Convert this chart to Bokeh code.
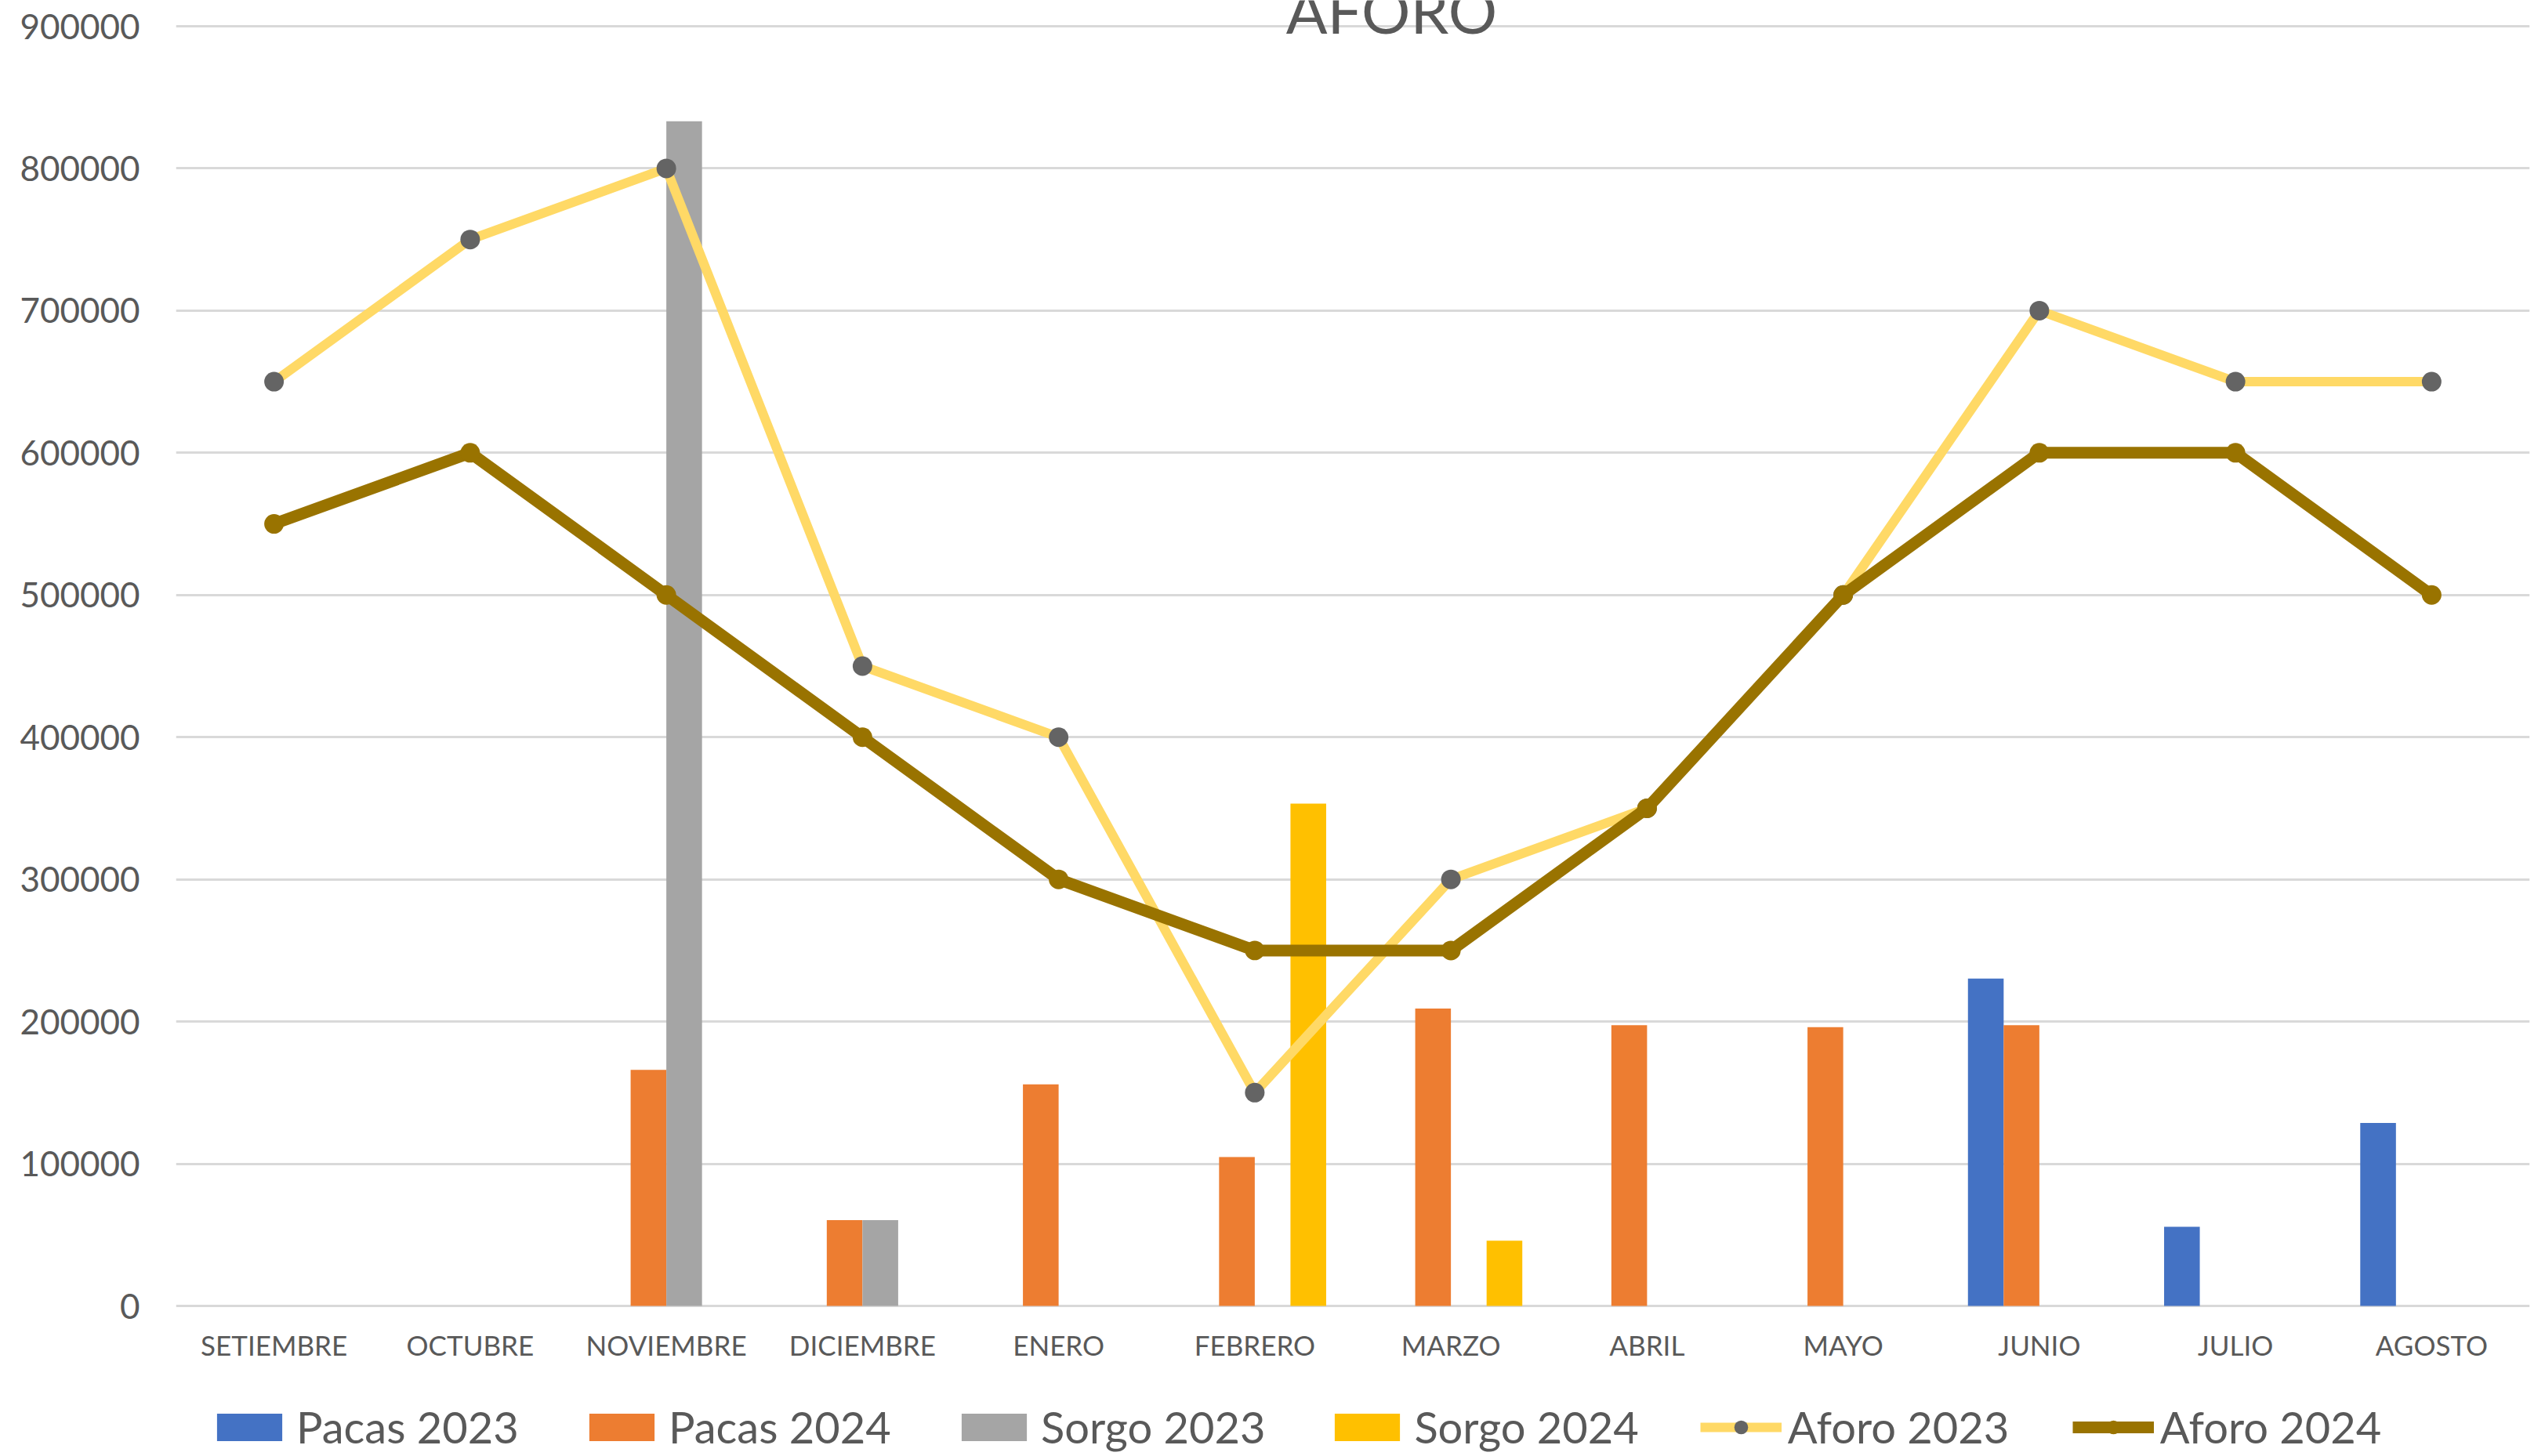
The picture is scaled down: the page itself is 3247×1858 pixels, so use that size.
import math
from bokeh.plotting import figure
from bokeh.models import (ColumnDataSource, FactorRange, Range1d, FixedTicker,
                          BasicTickFormatter, Legend, LegendItem, Label)
from bokeh.core.properties import value
from bokeh.transform import dodge
from bokeh.embed import file_html
from bokeh.resources import INLINE

NaN = float("nan")

months = ["SETIEMBRE", "OCTUBRE", "NOVIEMBRE", "DICIEMBRE", "ENERO", "FEBRERO",
          "MARZO", "ABRIL", "MAYO", "JUNIO", "JULIO", "AGOSTO"]
pacas_2023 = [NaN, NaN, NaN, NaN, NaN, NaN, NaN, NaN, NaN, 230300, 55700, 128700]
pacas_2024 = [NaN, NaN, 166000, 60300, 155900, 104700, 209200, 197400, 196100, 197500, NaN, NaN]
sorgo_2023 = [NaN, NaN, 833200, 60300, NaN, NaN, NaN, NaN, NaN, NaN, NaN, NaN]
sorgo_2024 = [NaN, NaN, NaN, NaN, NaN, 353300, 45900, NaN, NaN, NaN, NaN, NaN]
aforo_2023 = [650000, 750000, 800000, 450000, 400000, 150000, 300000, 350000, 500000, 700000, 650000, 650000]
aforo_2024 = [550000, 600000, 500000, 400000, 300000, 250000, 250000, 350000, 500000, 600000, 600000, 500000]
y_ticks = [0, 100000, 200000, 300000, 400000, 500000, 600000, 700000, 800000, 900000]

src = ColumnDataSource(dict(month=months, p23=pacas_2023, p24=pacas_2024,
                            s23=sorgo_2023, s24=sorgo_2024,
                            a23=aforo_2023, a24=aforo_2024,
                            base=[0] * len(months)))

TXT = "#595959"
FONT = "Lato"

# Canvas layout: the frame spans the whole canvas height so that the legend
# and category labels beneath the value axis are drawn inside it.
H = 1856
TOP_PX, ZERO_PX = 33, 1666          # pixel rows of 900000 and 0
per_px = 900000 / (ZERO_PX - TOP_PX)
y_hi = 900000 + TOP_PX * per_px
y_lo = -(H - ZERO_PX) * per_px

p = figure(width=3240, height=H, x_range=FactorRange(*months),
           y_range=Range1d(y_lo, y_hi), output_backend="svg", toolbar_location=None,
           min_border_left=224, min_border_right=13, min_border_top=0, min_border_bottom=0)
p.outline_line_color = None
p.background_fill_color = "white"
p.xaxis.visible = False

w = 0.182
bar_specs = [("p23", -1.5 * w, "#4472C4"), ("p24", -0.5 * w, "#ED7D31"),
             ("s23", 0.5 * w, "#A5A5A5"), ("s24", 1.5 * w, "#FFC000")]
bars = []
for col, off, color in bar_specs:
    r = p.vbar(x=dodge("month", off, range=p.x_range), top=col, width=w, source=src,
               fill_color=color, line_color=None)
    bars.append(r)

l23 = p.line(x="month", y="a23", source=src, line_color="#FFD966", line_width=12)
m23 = p.scatter(x="month", y="a23", source=src, size=25, fill_color="#646464", line_color=None)
l24 = p.line(x="month", y="a24", source=src, line_color="#997300", line_width=15)
m24 = p.scatter(x="month", y="a24", source=src, size=25, fill_color="#997300", line_color=None)

# category labels under the baseline
p.text(x="month", y="base", text="month", source=src, y_offset=49,
       text_font=value(FONT), text_font_size="35px", text_color=TXT,
       text_align="center", text_baseline="middle")

# value axis
p.yaxis.ticker = FixedTicker(ticks=y_ticks)
p.yaxis.formatter = BasicTickFormatter(use_scientific=False)
p.yaxis.axis_line_color = None
p.yaxis.major_tick_line_color = None
p.yaxis.minor_tick_line_color = None
p.yaxis.major_label_standoff = 40
p.yaxis.major_label_text_font = FONT
p.yaxis.major_label_text_font_size = "44px"
p.yaxis.major_label_text_color = TXT

p.xgrid.grid_line_color = None
p.ygrid.ticker = FixedTicker(ticks=y_ticks)
p.ygrid.grid_line_color = "#D9D9D9"
p.ygrid.grid_line_width = 3

legend = Legend(items=[
    LegendItem(label="Pacas 2023", renderers=[bars[0]]),
    LegendItem(label="Pacas 2024", renderers=[bars[1]]),
    LegendItem(label="Sorgo 2023", renderers=[bars[2]]),
    LegendItem(label="Sorgo 2024", renderers=[bars[3]]),
    LegendItem(label="Aforo 2023", renderers=[l23, m23]),
    LegendItem(label="Aforo 2024", renderers=[l24, m24]),
], orientation="horizontal", location=(42, 2))
legend.label_text_font = FONT
legend.label_text_font_size = "56px"
legend.label_text_color = TXT
legend.glyph_width = 104
legend.glyph_height = 44
legend.label_standoff = 8
legend.label_width = 285
legend.spacing = 78
legend.padding = 0
legend.margin = 0
legend.border_line_color = None
legend.background_fill_alpha = 0
p.add_layout(legend)

title = Label(x=1551, y=H - 12, x_units="screen", y_units="screen", text="AFORO",
              text_font=FONT, text_font_size="78px", text_color=TXT,
              text_align="center", text_baseline="alphabetic")
p.add_layout(title)

open("out.html", "w").write(file_html(p, INLINE))
